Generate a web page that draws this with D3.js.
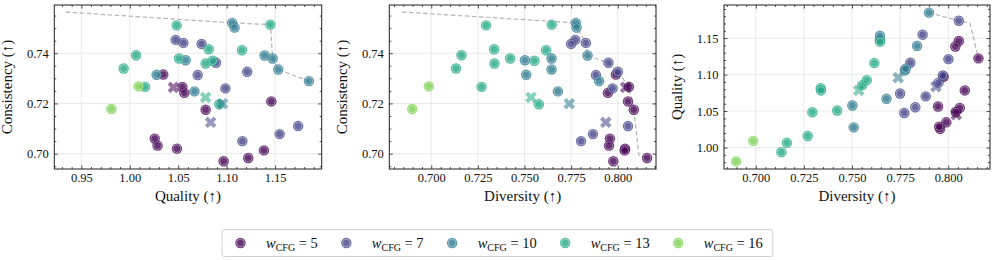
<!DOCTYPE html>
<html>
<head>
<meta charset="utf-8">
<script src="https://cdn.jsdelivr.net/npm/d3@7"></script>
<style>
  body { margin: 0; background: #fff; }
  svg, svg text { font-family: "Liberation Serif", "DejaVu Serif", serif; }
</style>
</head>
<body>
<svg id="chart" width="996" height="260"></svg>
<script>
  var wCfg = [5, 7, 10, 13, 16];

  // samples for each guidance scale (quality, consistency, diversity)
  var quality5 = [1.0346, 1.0543, 1.0563, 1.0783, 1.1461, 1.0257, 1.0287, 1.0487, 1.0969, 1.1223, 1.1385];
  var consistency5 = [0.7315, 0.7266, 0.7242, 0.7175, 0.7208, 0.7060, 0.7032, 0.7020, 0.6970, 0.6983, 0.7013];
  var diversity5 = [0.7990, 0.8060, 0.7947, 0.8086, 0.8055, 0.7958, 0.7953, 0.8039, 0.7976, 0.8157, 0.8037];

  var quality7 = [1.0474, 1.0553, 1.0741, 1.0890, 1.0701, 1.1212, 1.0987, 1.1738, 1.1547, 1.1162];
  var consistency7 = [0.7453, 0.7441, 0.7437, 0.7362, 0.7313, 0.7326, 0.7260, 0.7110, 0.7078, 0.7050];
  var diversity7 = [0.7772, 0.7829, 0.7750, 0.7950, 0.7883, 0.8001, 0.7972, 0.8055, 0.7867, 0.7803];

  var quality10 = [1.1057, 1.1082, 1.0577, 1.1392, 1.1475, 1.1533, 1.1849, 1.0277, 1.0668];
  var consistency10 = [0.7521, 0.7502, 0.7372, 0.7391, 0.7379, 0.7335, 0.7289, 0.7314, 0.7248];
  var diversity10 = [0.7775, 0.7779, 0.7502, 0.7838, 0.7645, 0.7645, 0.7900, 0.7509, 0.7679];

  var quality13 = [1.0484, 1.1451, 1.0815, 1.0065, 1.0508, 1.0783, 1.0855, 1.1158, 0.9937, 1.0158, 1.0924];
  var consistency13 = [0.7511, 0.7514, 0.7416, 0.7392, 0.7379, 0.7359, 0.7370, 0.7412, 0.7339, 0.7266, 0.7197];
  var diversity13 = [0.7294, 0.7646, 0.7337, 0.7162, 0.7423, 0.7339, 0.7553, 0.7616, 0.7133, 0.7270, 0.7577];

  var quality16 = [1.0092, 0.9810];
  var consistency16 = [0.7268, 0.7178];
  var diversity16 = [0.6987, 0.6898];

  // mean of each guidance scale (X markers)
  var meanW = [5, 7, 10, 13];
  var meanQuality = [1.0450, 1.0835, 1.0958, 1.0783];
  var meanConsistency = [0.7264, 0.7125, 0.7199, 0.7224];
  var meanDiversity = [0.8042, 0.7936, 0.7740, 0.7535];

  // pareto fronts
  var frontQualityA = [0.9339, 1.1057, 1.1451, 1.1475, 1.1533, 1.1849];
  var frontConsistencyA = [0.7564, 0.7521, 0.7514, 0.7379, 0.7335, 0.7289];
  var frontDiversityB = [0.6843, 0.7775, 0.7779, 0.7829, 0.7838, 0.7950, 0.8001, 0.8060, 0.8086, 0.8113, 0.8157];
  var frontConsistencyB = [0.7564, 0.7521, 0.7502, 0.7441, 0.7391, 0.7361, 0.7326, 0.7266, 0.7173, 0.6995, 0.6983];
  var frontDiversityC = [0.7900, 0.8055, 0.8113, 0.8157];
  var frontQualityC = [1.1849, 1.1738, 1.1707, 1.1223];

  var allQ = [quality5, quality7, quality10, quality13, quality16];
  var allC = [consistency5, consistency7, consistency10, consistency13, consistency16];
  var allD = [diversity5, diversity7, diversity10, diversity13, diversity16];

  var color = d3.scaleOrdinal()
      .domain(wCfg)
      .range(wCfg.map(function(w, i) { return d3.interpolateViridis(i * 0.2); }));

  var points = [];
  wCfg.forEach(function(w, i) {
    allQ[i].forEach(function(q, j) {
      points.push({ w: w, quality: q, consistency: allC[i][j], diversity: allD[i][j] });
    });
  });
  var means = meanW.map(function(w, i) {
    return { w: w, quality: meanQuality[i], consistency: meanConsistency[i], diversity: meanDiversity[i] };
  });

  var plotTop = 5, plotBottom = 169;

  var panels = [
    { left: 54.3, right: 321.7, xKey: "quality", yKey: "consistency",
      xDomain: [0.9221, 1.1981], yDomain: [0.6939, 0.7592],
      xTicks: [0.95, 1.00, 1.05, 1.10, 1.15], xMinor: 0.01, xFmt: ".2f",
      yTicks: [0.70, 0.72, 0.74], yMinor: 0.005, yFmt: ".2f",
      xLabel: "Quality (\u2191)", yLabel: "Consistency (\u2191)",
      front: frontQualityA.map(function(v, i) { return [v, frontConsistencyA[i]]; }) },
    { left: 389.3, right: 656, xKey: "diversity", yKey: "consistency",
      xDomain: [0.6775, 0.8205], yDomain: [0.6939, 0.7592],
      xTicks: [0.700, 0.725, 0.750, 0.775, 0.800], xMinor: 0.005, xFmt: ".3f",
      yTicks: [0.70, 0.72, 0.74], yMinor: 0.005, yFmt: ".2f",
      xLabel: "Diversity (\u2191)", yLabel: "Consistency (\u2191)",
      front: frontDiversityB.map(function(v, i) { return [v, frontConsistencyB[i]]; }) },
    { left: 724, right: 990, xKey: "diversity", yKey: "quality",
      xDomain: [0.6835, 0.8217], yDomain: [0.9706, 1.1954],
      xTicks: [0.700, 0.725, 0.750, 0.775, 0.800], xMinor: 0.005, xFmt: ".3f",
      yTicks: [1.00, 1.05, 1.10, 1.15], yMinor: 0.01, yFmt: ".2f",
      xLabel: "Diversity (\u2191)", yLabel: "Quality (\u2191)",
      front: frontDiversityC.map(function(v, i) { return [v, frontQualityC[i]]; }) }
  ];

  var svg = d3.select("#chart");

  function minorTicks(domain, step, majors) {
    var out = [];
    var start = Math.ceil(domain[0] / step - 1e-9);
    for (var k = start; k * step <= domain[1] + 1e-9; k++) {
      var v = +(k * step).toFixed(6);
      if (!majors.some(function(m) { return Math.abs(m - v) < 1e-7; })) out.push(v);
    }
    return out;
  }

  function drawDot(g, cx, cy, c) {
    g.append("circle").attr("cx", cx).attr("cy", cy).attr("r", 5.2)
      .attr("fill", c).attr("fill-opacity", 0.8);
    g.append("circle").attr("cx", cx).attr("cy", cy).attr("r", 3.9)
      .attr("fill", "none").attr("stroke", "#fff")
      .attr("stroke-width", 0.8).attr("stroke-opacity", 0.5);
  }

  var xMark = d3.symbol().type(d3.symbolCross).size(84);

  panels.forEach(function(p) {
    var x = d3.scaleLinear().domain(p.xDomain).range([p.left, p.right]);
    var y = d3.scaleLinear().domain(p.yDomain).range([plotBottom, plotTop]);
    var g = svg.append("g");

    // grid
    g.selectAll(".gx").data(p.xTicks).enter().append("line")
      .attr("x1", function(d) { return x(d); }).attr("x2", function(d) { return x(d); })
      .attr("y1", plotTop).attr("y2", plotBottom)
      .attr("stroke", "#e6e6e6").attr("stroke-width", 0.9);
    g.selectAll(".gy").data(p.yTicks).enter().append("line")
      .attr("x1", p.left).attr("x2", p.right)
      .attr("y1", function(d) { return y(d); }).attr("y2", function(d) { return y(d); })
      .attr("stroke", "#e6e6e6").attr("stroke-width", 0.9);

    // pareto front
    var line = d3.line()
      .x(function(d) { return x(d[0]); })
      .y(function(d) { return y(d[1]); });
    g.append("path")
      .datum(p.front)
      .attr("fill", "none")
      .attr("stroke", "#b4b4b4")
      .attr("stroke-width", 1.2)
      .attr("stroke-dasharray", "4.5,2.5")
      .attr("d", line);

    // samples
    var dots = g.append("g");
    points.forEach(function(d) {
      drawDot(dots, x(d[p.xKey]), y(d[p.yKey]), color(d.w));
    });

    // means
    g.selectAll(".mean").data(means).enter().append("path")
      .attr("d", xMark)
      .attr("transform", function(d) {
        return "translate(" + x(d[p.xKey]) + "," + y(d[p.yKey]) + ") rotate(45)";
      })
      .attr("fill", function(d) { return color(d.w); })
      .attr("fill-opacity", 0.55);

    // axes: major + minor ticks inward on all sides
    var xMinors = minorTicks(p.xDomain, p.xMinor, p.xTicks);
    var yMinors = minorTicks(p.yDomain, p.yMinor, p.yTicks);

    g.append("g").attr("transform", "translate(0," + plotBottom + ")")
      .call(d3.axisBottom(x).tickValues(p.xTicks).tickSize(-3.5).tickPadding(4.5)
        .tickFormat(d3.format(p.xFmt)));
    g.append("g").attr("transform", "translate(" + p.left + ",0)")
      .call(d3.axisLeft(y).tickValues(p.yTicks).tickSize(-3.5).tickPadding(5.5)
        .tickFormat(d3.format(p.yFmt)));
    g.append("g").attr("transform", "translate(0," + plotTop + ")")
      .call(d3.axisTop(x).tickValues(p.xTicks).tickSize(-3.5).tickFormat(""));
    g.append("g").attr("transform", "translate(" + p.right + ",0)")
      .call(d3.axisRight(y).tickValues(p.yTicks).tickSize(-3.5).tickFormat(""));
    g.append("g").attr("transform", "translate(0," + plotBottom + ")")
      .call(d3.axisBottom(x).tickValues(xMinors).tickSize(-2).tickFormat(""));
    g.append("g").attr("transform", "translate(0," + plotTop + ")")
      .call(d3.axisTop(x).tickValues(xMinors).tickSize(-2).tickFormat(""));
    g.append("g").attr("transform", "translate(" + p.left + ",0)")
      .call(d3.axisLeft(y).tickValues(yMinors).tickSize(-2).tickFormat(""));
    g.append("g").attr("transform", "translate(" + p.right + ",0)")
      .call(d3.axisRight(y).tickValues(yMinors).tickSize(-2).tickFormat(""));

    g.selectAll(".domain").remove();
    g.selectAll(".tick line").attr("stroke", "#222").attr("stroke-width", 0.8);
    g.selectAll(".tick text").attr("fill", "#111").attr("font-size", 12.5);

    g.append("rect")
      .attr("x", p.left).attr("y", plotTop)
      .attr("width", p.right - p.left).attr("height", plotBottom - plotTop)
      .attr("fill", "none").attr("stroke", "#222").attr("stroke-width", 1);

    g.append("text")
      .attr("x", (p.left + p.right) / 2).attr("y", 201)
      .attr("text-anchor", "middle").attr("font-size", 15).attr("fill", "#111")
      .text(p.xLabel);
    g.append("text")
      .attr("transform", "translate(" + (p.left - 42) + "," + ((plotTop + plotBottom) / 2) + ") rotate(-90)")
      .attr("text-anchor", "middle").attr("font-size", 15).attr("fill", "#111")
      .text(p.yLabel);
  });

  // legend
  var legend = svg.append("g");
  var box = legend.append("rect")
    .attr("x", 222).attr("y", 229.5).attr("height", 27).attr("rx", 2.5)
    .attr("fill", "#fff").attr("stroke", "#d0d0d0").attr("stroke-width", 1);
  var lx = 240.5, ly = 243;
  wCfg.forEach(function(w) {
    drawDot(legend, lx, ly, color(w));
    var t = legend.append("text")
      .attr("x", lx + 25.5).attr("y", ly + 4.5)
      .attr("font-size", 14.5).attr("fill", "#111");
    t.append("tspan").attr("font-style", "italic").text("w");
    t.append("tspan").attr("font-size", 10).attr("dy", 3).text("CFG");
    t.append("tspan").attr("dy", -3).text(" = " + w);
    var wd = t.node().getComputedTextLength();
    lx = lx + 25.5 + wd + 28.5;
  });
  box.attr("width", lx - 28.5 + 10 - 222);
</script>
</body>
</html>
